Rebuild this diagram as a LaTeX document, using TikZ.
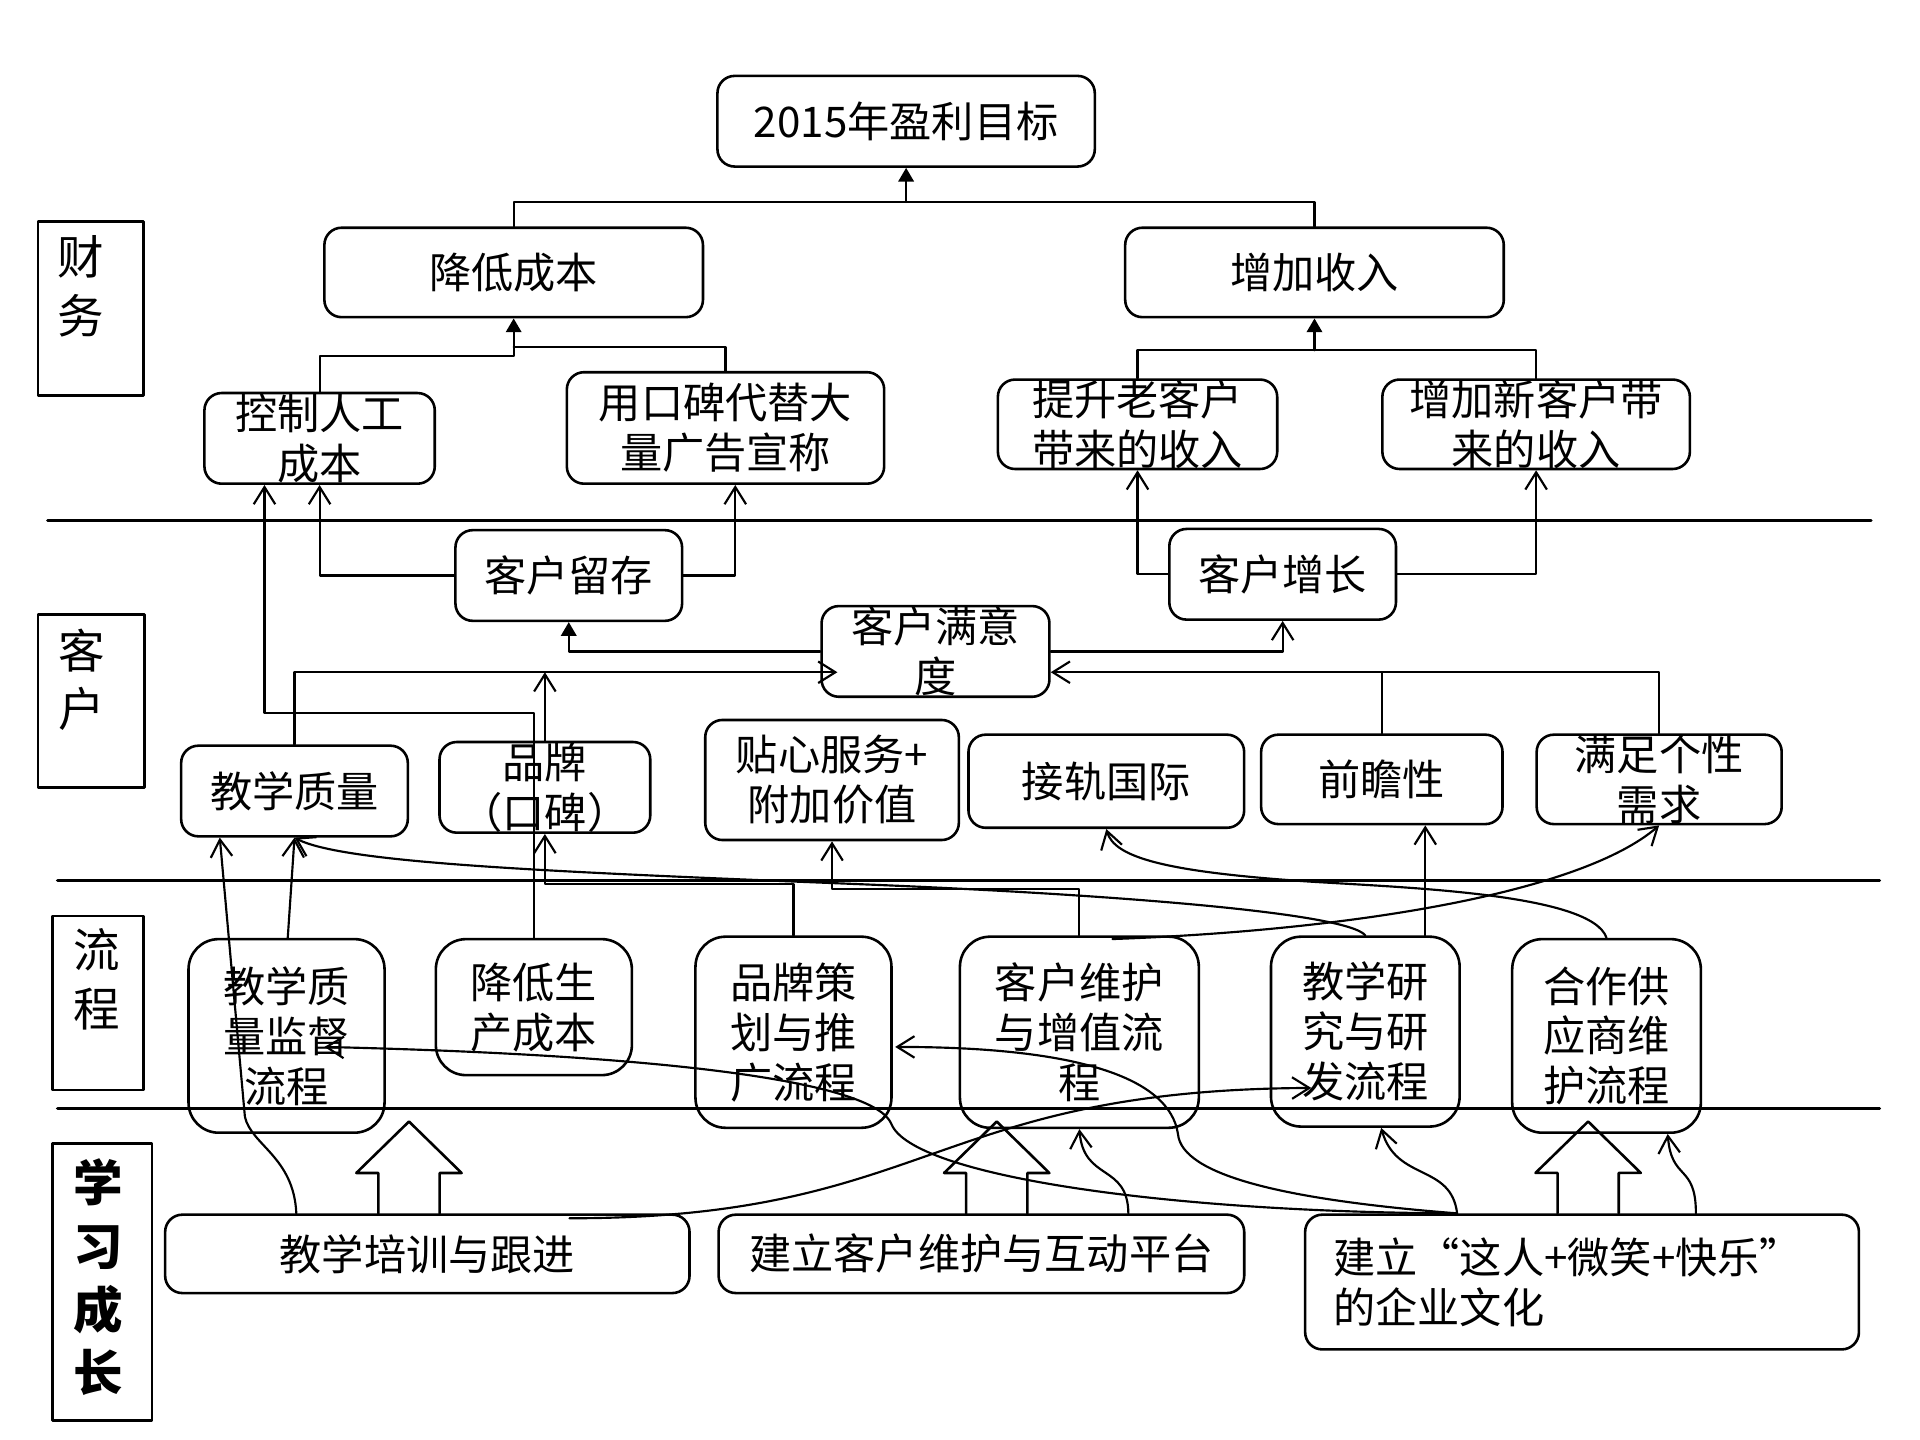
\documentclass[tikz,border=0pt]{standalone}
\usepackage{fontspec}
\setmainfont{Noto Sans CJK SC}
\usetikzlibrary{arrows.meta,calc,positioning}

\begin{document}
\begin{tikzpicture}[line cap=round,line join=round,x=0.01cm,y=-0.01cm,
	every node/.style={font=\fontsize{9.8}{11.6}\selectfont,align=center,inner sep=0pt},
	box/.style={draw,line width=0.6pt,rounded corners=4pt},
	pbox/.style={box,rounded corners=7pt},
	lane/.style={draw,line width=0.6pt},
	lanetext/.style={anchor=north,font=\fontsize{10.8}{13.6}\selectfont},
	conn/.style={line width=0.5pt},
	barb/.style={conn,-{Straight Barb[length=4pt,width=5pt]}},
	tri/.style={conn,-{Triangle[length=3.2pt,width=3.6pt]}},
	fat/.style={line width=0.6pt}]

\useasboundingbox (0,0) rectangle (1568,1176);

% lanes
\node[lane,minimum width=0.86cm,minimum height=1.42cm] (lfin) at (74,252) {};
\node[lanetext] (tfin) at ($(lfin.north)+(-8,12)$) {财\\务};
\node[lane,minimum width=0.87cm,minimum height=1.41cm] (lcus) at (74.5,572.5) {};
\node[lanetext] (tcus) at ($(lcus.north)+(-8,12)$) {客\\户};
\node[lane,minimum width=0.74cm,minimum height=1.42cm] (lpro) at (80,819) {};
\node[lanetext] (tpro) at ($(lpro.north)+(-1,11)$) {流\\程};
\node[lane,minimum width=0.81cm,minimum height=2.26cm] (llrn) at (83.5,1047) {};
\node[lanetext,font=\fontsize{11.5}{14.7}\selectfont\bfseries] (tlrn) at ($(llrn.north)+(-3,13)$) {学\\习\\成\\长};

\draw[line width=0.75pt] (39,425) -- (1528,425);
\draw[line width=0.75pt] (47,719) -- (1535,719);
\draw[line width=0.75pt] (47,905) -- (1535,905);

% finance
\node[box,minimum width=3.08cm,minimum height=0.74cm] (goal) at (740,99) {2015年盈利目标};
\node[box,minimum width=3.09cm,minimum height=0.73cm] (cost) at (419.5,222.5) {降低成本};
\node[box,minimum width=3.09cm,minimum height=0.73cm] (rev) at (1073.5,222.5) {增加收入};
\node[box,minimum width=1.88cm,minimum height=0.74cm] (labor) at (261,358) {控制人工\\成本};
\node[box,minimum width=2.59cm,minimum height=0.91cm] (word) at (592.5,349.5) {用口碑代替大\\量广告宣称};
\node[box,minimum width=2.28cm,minimum height=0.73cm] (oldrev) at (929,346.5) {提升老客户\\带来的收入};
\node[box,minimum width=2.51cm,minimum height=0.73cm] (newrev) at (1254.5,346.5) {增加新客户带\\来的收入};

% customer
\node[box,minimum width=1.85cm,minimum height=0.74cm] (keep) at (464.5,470) {客户留存};
\node[box,minimum width=1.85cm,minimum height=0.74cm] (grow) at (1047.5,469) {客户增长};
\node[box,minimum width=1.86cm,minimum height=0.74cm] (sat) at (764,532) {客户满意\\度};
\node[box,minimum width=1.85cm,minimum height=0.74cm] (quality) at (240.5,646) {教学质量};
\node[box,minimum width=1.72cm,minimum height=0.74cm] (brand) at (445,643) {品牌\\（口碑）};
\node[box,minimum width=2.07cm,minimum height=0.98cm] (service) at (679.5,637) {贴心服务+\\附加价值};
\node[box,minimum width=2.25cm,minimum height=0.76cm] (intl) at (903.5,638) {接轨国际};
\node[box,minimum width=1.97cm,minimum height=0.73cm] (ahead) at (1128.5,636.5) {前瞻性};
\node[box,minimum width=2.00cm,minimum height=0.73cm] (need) at (1355,636.5) {满足个性\\需求};

% process
\node[pbox,minimum width=1.60cm,minimum height=1.58cm] (pqual) at (234,846) {教学质\\量监督\\流程};
\node[pbox,minimum width=1.60cm,minimum height=1.11cm] (pcost) at (436,822.5) {降低生\\产成本};
\node[pbox,minimum width=1.60cm,minimum height=1.56cm] (pbrand) at (648,843) {品牌策\\划与推\\广流程};
\node[pbox,minimum width=1.95cm,minimum height=1.56cm] (pcare) at (881.5,843) {客户维护\\与增值流\\程};
\node[pbox,minimum width=1.54cm,minimum height=1.55cm] (pres) at (1115,842.5) {教学研\\究与研\\发流程};
\node[pbox,minimum width=1.54cm,minimum height=1.58cm] (psup) at (1312,846) {合作供\\应商维\\护流程};

% learning
\node[box,minimum width=4.28cm,minimum height=0.64cm] (train) at (349,1024) {教学培训与跟进};
\node[box,minimum width=4.29cm,minimum height=0.64cm] (platform) at (801.5,1024) {建立客户维护与互动平台};
\node[box,minimum height=1.10cm,text width=4.06cm,inner xsep=0.23cm,align=left] (culture) at (1292,1047) {建立“这人+微笑+快乐”\\的企业文化};

% finance links
\coordinate (gj) at ($(goal.south)+(0,28)$);
\draw[conn] (cost.north) |- (gj) -| (rev.north);
\draw[tri] (gj) -- (goal.south);
\coordinate (cj) at ($(cost.south)+(0,23)$);
\draw[conn] (labor.north) |- ($(cj)+(0,8)$) -- (cj);
\draw[conn] (word.north) |- (cj);
\draw[tri] (cj) -- (cost.south);
\coordinate (rj) at ($(rev.south)+(0,26)$);
\draw[conn] (oldrev.north) |- (rj) -| (newrev.north);
\draw[tri] (rj) -- (rev.south);

% customer links
\draw[barb] (keep.west) -| (labor.south);
\draw[barb] (keep.east) -| ($(word.south)+(8,0)$);
\draw[barb] (grow.west) -| (oldrev.south);
\draw[barb] (grow.east) -| (newrev.south);
\draw[tri] (sat.west) -| (keep.south);
\draw[barb] (sat.east) -| (grow.south);
\coordinate (satl) at ($(sat.west)+(14,17)$);
\coordinate (satr) at ($(sat.east)+(0,17)$);
\draw[barb] (quality.north) |- (satl);
\draw[barb] (brand.north) -- (brand.north |- satl);
\draw[barb] (need.north) |- (satr);
\draw[conn] (ahead.north) -- (ahead.north |- satr);

% process links
\draw[barb] (pcost.north) |- ($(labor.south)+(-45,186)$) -- ($(labor.south)+(-45,0)$);
\draw[barb] (pbrand.north) |- ($(brand.south)+(0,41)$) -- (brand.south);
\draw[barb] (pcare.north) |- ($(service.south)+(0,39)$) -- (service.south);
\draw[barb] ($(pres.north)+(49,0)$) -- ($(ahead.south)+(35.5,0)$);
\draw[barb] ($(pqual.north)+(1,0)$) -- (quality.south);
\draw[barb] (pres.north) .. controls (1100,745) and (900,730) .. (700,722) .. controls (450,712) and (280,705) .. (quality.south);
\draw[barb] (psup.north) .. controls (1300,730) and (1150,725) .. (1070,720) .. controls (950,712) and (910,700) .. (intl.south);
\draw[barb] ($(pcare.north)+(27,3)$) .. controls (1100,760) and (1290,730) .. (need.south);

% learning links
\draw[barb] ($(train.north)+(-107,0)$) .. controls (240,945) and (205,935) .. (200,912) -- ($(quality.south)+(-61,0)$);
\draw[barb] ($(train.north)+(116,4)$) .. controls (760,995) and (760,890) .. ($(pres.west)+(34,46)$);
\draw[barb] ($(culture.north)+(-102,0)$) .. controls (950,990) and (745,960) .. (728,918) .. controls (715,885) and (560,862) .. ($(pqual.center)+(31,9)$);
\draw[barb] ($(culture.north)+(-102,0)$) .. controls (1050,980) and (965,960) .. (962,926) .. controls (955,880) and (880,855) .. ($(pbrand.east)+(2,12)$);
\draw[barb] ($(culture.north)+(-102,0)$) .. controls (1185,950) and (1140,965) .. ($(pres.south)+(13,0)$);
\draw[barb] ($(culture.north)+(93,0)$) .. controls (1385,950) and (1365,965) .. ($(psup.south)+(50,0)$);
\draw[barb] ($(platform.north)+(120,0)$) .. controls (921,950) and (885,965) .. (pcare.south);

\draw[fat] ($(train.north)+(-15,0)$) ++(-25,0) -- ++(0,-33) -- ++(-18,0) -- ++(43,-42) -- ++(43,42) -- ++(-18,0) -- ++(0,33);
\draw[fat] ($(platform.north)+(12.5,0)$) ++(-25,0) -- ++(0,-33) -- ++(-18,0) -- ++(43,-42) -- ++(43,42) -- ++(-18,0) -- ++(0,33);
\draw[fat] ($(culture.north)+(5,0)$) ++(-25,0) -- ++(0,-33) -- ++(-18,0) -- ++(43,-42) -- ++(43,42) -- ++(-18,0) -- ++(0,33);
\end{tikzpicture}
\end{document}
